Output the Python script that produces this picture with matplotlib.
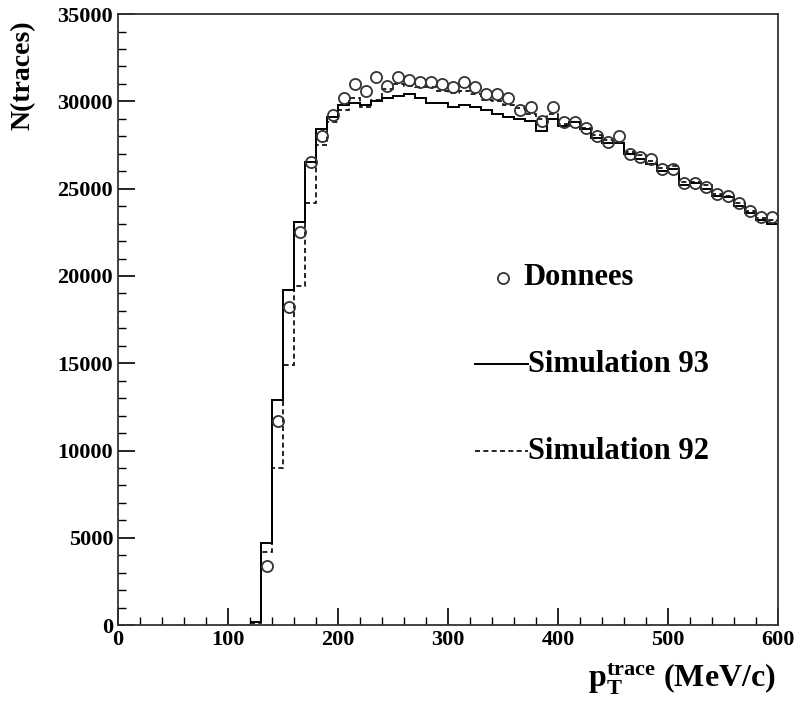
import matplotlib
matplotlib.use("Agg")
import matplotlib.pyplot as plt
import numpy as np
from matplotlib.ticker import MultipleLocator

plt.rcParams["font.family"] = ["Liberation Serif", "DejaVu Serif"]
plt.rcParams["font.weight"] = "bold"
plt.rcParams["mathtext.fontset"] = "custom"
plt.rcParams["mathtext.rm"] = "Liberation Serif:bold"
plt.rcParams["mathtext.it"] = "Liberation Serif:bold"
plt.rcParams["mathtext.bf"] = "Liberation Serif:bold"

# bin edges of the histograms (MeV/c)
edges = np.arange(120, 610, 10)

# Simulation 93 (solid)
sim93 = [200, 4700, 12900, 19200, 23100, 26500, 28400, 29100, 29800, 29900,
         29800, 30000, 30200, 30300, 30400, 30200, 29900, 29900, 29700, 29800,
         29700, 29500, 29300, 29100, 29000, 28900, 28300, 29000, 28600, 28800,
         28400, 27900, 27600, 27600, 27000, 26700, 26400, 26000, 26100, 25200,
         25300, 25000, 24600, 24500, 24000, 23600, 23200, 23000]

# Simulation 92 (dashed)
sim92 = [100, 4200, 9000, 14900, 19400, 24200, 27500, 28800, 29500, 30200,
         29700, 30100, 30700, 31000, 30900, 30800, 30800, 30600, 30500, 30600,
         30400, 30100, 30000, 29800, 29600, 29300, 29000, 29300, 28700, 28800,
         28500, 28100, 27800, 27700, 27100, 26900, 26600, 26200, 26300, 25400,
         25400, 25200, 24700, 24600, 24200, 23700, 23300, 23200]

# Donnees (circles)
data_x = np.arange(135, 600, 10)
data_y = [3400, 11700, 18200, 22500, 26500, 28000, 29200, 30200, 31000, 30600,
          31400, 30900, 31400, 31200, 31100, 31100, 31000, 30800, 31100, 30800,
          30400, 30400, 30200, 29500, 29700, 28900, 29700, 28800, 28800, 28500,
          28000, 27700, 28000, 27000, 26800, 26700, 26100, 26100, 25300, 25300,
          25100, 24700, 24600, 24200, 23700, 23400, 23400]

fig = plt.figure(figsize=(8, 7.04), dpi=100)
ax = fig.add_axes([0.1475, 0.112, 0.825, 0.868])

ax.stairs(sim93, edges, color="black", lw=1.4, baseline=None)
ax.stairs(sim92, edges, color="black", lw=1.2, ls=(0, (3, 2)), baseline=None)
ax.plot(data_x, data_y, "o", ms=8, mfc="none", mec="#333333", mew=1.3)

ax.set_xlim(0, 600)
ax.set_ylim(0, 35000)
ax.xaxis.set_major_locator(MultipleLocator(100))
ax.xaxis.set_minor_locator(MultipleLocator(20))
ax.yaxis.set_major_locator(MultipleLocator(5000))
ax.yaxis.set_minor_locator(MultipleLocator(1000))
ax.tick_params(which="both", direction="in", top=False, right=False, labelsize=16)
ax.tick_params(which="major", length=12, width=1.2)
ax.tick_params(which="minor", length=6, width=1.0)
for s in ax.spines.values():
    s.set_linewidth(1.3)
    s.set_color("#333333")

ax.set_ylabel("N(traces)", fontsize=20, fontweight="bold")
ax.yaxis.set_label_coords(-0.125, 0.90)
ax.set_xlabel(r"$\mathrm{p}_\mathrm{T}^\mathrm{trace}$ (MeV/c)", fontsize=23, fontweight="bold")
ax.xaxis.label.set_ha("right")
ax.xaxis.set_label_coords(0.997, -0.06)

# legend drawn as in the original, in data coordinates
ax.plot([350], [19900], "o", ms=8, mfc="none", mec="#333333", mew=1.3)
ax.text(369, 19900, "Donnees", fontsize=22, va="center")
ax.plot([325, 373], [14950, 14950], color="black", lw=1.4)
ax.text(373, 14950, "Simulation 93", fontsize=22, va="center")
ax.plot([325, 373], [9950, 9950], color="black", lw=1.2, ls=(0, (3, 2)))
ax.text(373, 9950, "Simulation 92", fontsize=22, va="center")

fig.savefig("out.png", dpi=100)
